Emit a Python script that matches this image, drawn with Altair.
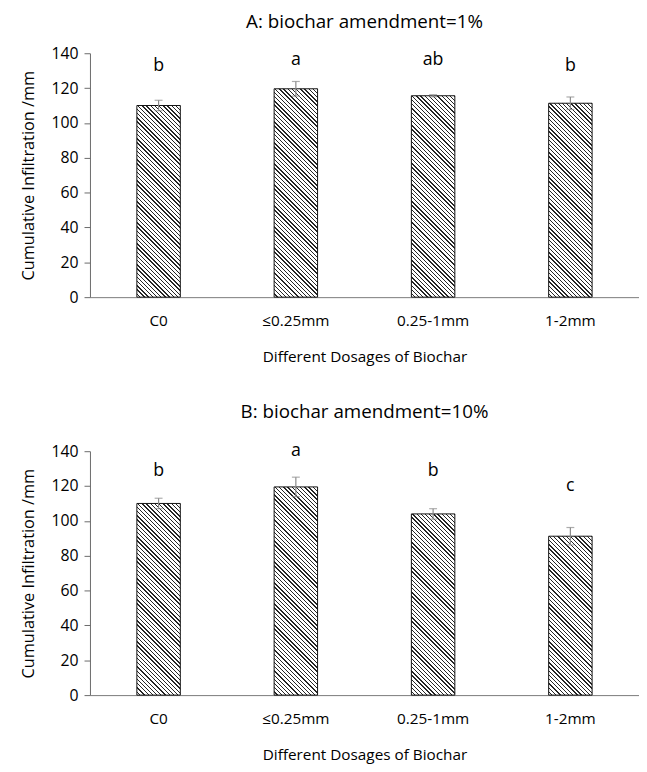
import math
import altair as alt
import pandas as pd

categories = ["C0", "≤0.25mm", "0.25-1mm", "1-2mm"]

a_means = [110.0, 119.6, 115.6, 111.3]
a_err = [3.0, 4.2, 0.6, 3.6]
a_letters = ["b", "a", "ab", "b"]
a_letter_y = [130, 133, 133, 130]

b_means = [110.0, 119.5, 104.0, 91.2]
b_err = [3.0, 5.6, 3.0, 5.0]
b_letters = ["b", "a", "b", "c"]
b_letter_y = [126, 137, 126, 117]

y_ticks = [0, 20, 40, 60, 80, 100, 120, 140]

PLOT_W = 556
PLOT_H = 247
Y_MAX = 140
BAR_W = 44
PAD_IN = 1 - BAR_W / (PLOT_W / len(categories))
FONT = "Open Sans"


def hatch_fill(value, period=3.0, ink=0.32):
    """Diagonal '\\' hatch drawn as a sharp-stop linear gradient."""
    w = BAR_W
    h = value * PLOT_H / Y_MAX
    k = (w + h) / (w * w + h * h)
    n = max(1, round((w + h) / math.sqrt(2) / period))
    stops = []
    for i in range(n):
        a = i / n
        b = (i + 1 - ink) / n
        c = (i + 1) / n
        stops += [
            {"offset": a, "color": "#ffffff"},
            {"offset": b, "color": "#ffffff"},
            {"offset": b, "color": "#262626"},
            {"offset": c, "color": "#262626"},
        ]
    return {"gradient": "linear", "x1": 0, "y1": 1, "x2": k * w, "y2": 1 - k * h, "stops": stops}


def panel(means, errs, letters, letter_y, title, title_offset):
    df = pd.DataFrame({
        "cat": categories,
        "mean": means,
        "lo": [m - e for m, e in zip(means, errs)],
        "hi": [m + e for m, e in zip(means, errs)],
        "letter": letters,
        "ly": letter_y,
    })
    x_axis = alt.Axis(title="Different Dosages of Biochar", labelAngle=0, ticks=False,
                      domainColor="#7a7a7a", domainWidth=1, labelFontSize=15.5, labelFont=FONT,
                      labelColor="#000000", labelPadding=17, titleFontSize=15.5, titleFont=FONT,
                      titleFontWeight="normal", titleColor="#000000", titlePadding=21)
    x = alt.X("cat:N", sort=categories,
              scale=alt.Scale(domain=categories, paddingInner=PAD_IN, paddingOuter=PAD_IN / 2),
              axis=x_axis)
    y_axis = alt.Axis(title="Cumulative Infiltration /mm", values=y_ticks, grid=False,
                      domainColor="#6a6a6a", tickColor="#6a6a6a", tickSize=6, labelPadding=6,
                      labelFontSize=16, labelFont=FONT, labelColor="#000000",
                      titleFontSize=16.5, titleFont=FONT, titleFontWeight="normal",
                      titleColor="#000000", titlePadding=15)
    y_scale = alt.Scale(domain=[0, Y_MAX], nice=False)

    base = alt.Chart(df)
    layers = []
    for c, m in zip(categories, means):
        layers.append(
            base.transform_filter(alt.datum.cat == c)
            .mark_bar(fill=hatch_fill(m), stroke="#111111", strokeWidth=1)
            .encode(x=x, y=alt.Y("mean:Q", scale=y_scale, axis=y_axis))
        )
    err = base.mark_rule(color="#8a8a8a", strokeWidth=1.2).encode(
        x=x, y=alt.Y("lo:Q", scale=y_scale, axis=y_axis), y2="hi:Q")
    cap_hi = base.mark_tick(color="#8a8a8a", thickness=1.2, size=8).encode(
        x=x, y=alt.Y("hi:Q", scale=y_scale, axis=y_axis))
    cap_lo = base.mark_tick(color="#8a8a8a", thickness=1.2, size=8).encode(
        x=x, y=alt.Y("lo:Q", scale=y_scale, axis=y_axis))
    text = base.mark_text(baseline="alphabetic", fontSize=18, font=FONT, color="#000000").encode(
        x=x, y=alt.Y("ly:Q", scale=y_scale, axis=y_axis), text="letter:N")
    layers += [err, cap_hi, cap_lo, text]
    return alt.layer(*layers).properties(
        width=PLOT_W, height=PLOT_H,
        title=alt.TitleParams(title, fontSize=19, font=FONT, fontWeight="normal", color="#000000",
                              anchor="middle", frame="group", offset=title_offset),
    )


chart = alt.vconcat(
    panel(a_means, a_err, a_letters, a_letter_y, "A: biochar amendment=1%", 14),
    panel(b_means, b_err, b_letters, b_letter_y, "B: biochar amendment=10%", 21),
    spacing=38,
).properties(
    padding={"left": 12, "top": 0, "right": 0, "bottom": 0}
).configure(background="#ffffff").configure_view(stroke="transparent", strokeWidth=0)

chart.save("out.html", embed_options={"renderer": "svg", "actions": False})
